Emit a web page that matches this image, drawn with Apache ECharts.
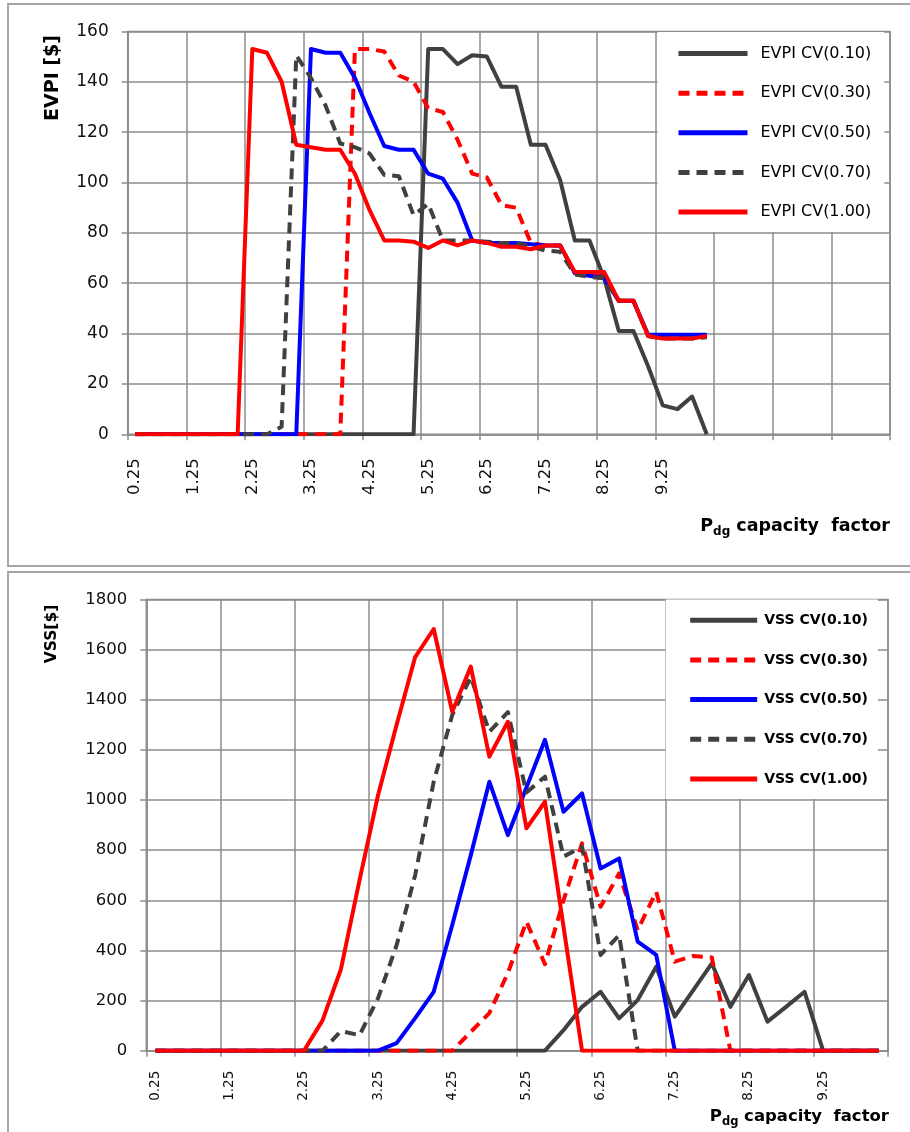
<!DOCTYPE html>
<html><head><meta charset="utf-8">
<script src="https://cdn.jsdelivr.net/npm/echarts@6/dist/echarts.min.js"></script>
<style>html,body{margin:0;padding:0;background:#fff}#c{width:910px;height:1132px}</style>
</head><body><div id="c"></div>
<script>
// ---------- DATA ----------
const xCatsTop = ['0.25','0.5','0.75','1','1.25','1.5','1.75','2','2.25','2.5','2.75','3','3.25','3.5','3.75','4',
  '4.25','4.5','4.75','5','5.25','5.5','5.75','6','6.25','6.5','6.75','7','7.25','7.5','7.75','8',
  '8.25','8.5','8.75','9','9.25','9.5','9.75','10','','','','','','','','','','','',''];
const xCatsBottom = ['0.25','0.5','0.75','1','1.25','1.5','1.75','2','2.25','2.5','2.75','3','3.25','3.5','3.75','4',
  '4.25','4.5','4.75','5','5.25','5.5','5.75','6','6.25','6.5','6.75','7','7.25','7.5','7.75','8',
  '8.25','8.5','8.75','9','9.25','9.5','9.75','10'];

const evpiNames = ['EVPI CV(0.10)','EVPI CV(0.30)','EVPI CV(0.50)','EVPI CV(0.70)','EVPI CV(1.00)'];
const vssNames = ['VSS CV(0.10)','VSS CV(0.30)','VSS CV(0.50)','VSS CV(0.70)','VSS CV(1.00)'];

const evpiCv010 = [
  0,0,0,0,0,0,0,0,0,0,
  0,0,0,0,0,0,0,0,0,0,
  153,153,147,150.5,150,138,138,115,115,101,
  77,77,62,41,41,27,11.5,10,15,0];
const evpiCv030 = [
  0,0,0,0,0,0,0,0,0,0,
  0,0,0,0,0,153,153,152,142.5,140,
  129.5,128,117,103.5,102,91,90,76,75,75,
  64,63,63,53,53,39,38.5,38.5,38.5,39];
const evpiCv050 = [
  0,0,0,0,0,0,0,0,0,0,
  0,0,153,151.5,151.5,141.5,127.5,114.5,113,113,
  103.5,101.5,92,77,76,76,76,75.5,75,75,
  64,63,62,53,53,39.5,39.5,39.5,39.5,39.5];
const evpiCv070 = [
  0,0,0,0,0,0,0,0,0,0,
  3,150.5,141.5,130.5,115.5,114,111.5,103,102.5,87,
  91.5,77,77,77,76.5,76,76,74.5,73,72.5,
  63.5,62.5,62,53,53,39,38,38,38,38.5];
const evpiCv100 = [
  0,0,0,0,0,0,0,0,153,151.5,
  140,115,114,113,113,103.5,89,77,77,76.5,
  74,77,75,77,76,74.5,74.5,73.5,75,75,
  64.5,64.5,64.5,53,53,39,38,38,38,39];

const vssCv010 = [
  0,0,0,0,0,0,0,0,0,0,
  0,0,0,0,0,0,0,0,0,0,
  0,0,82,175,235,129,202,335,136,242,
  348,175,302,116,175,235,0,0,0,0];
const vssCv030 = [
  0,0,0,0,0,0,0,0,0,0,
  0,0,0,0,0,0,0,75,150,310,
  515,345,600,827,574,707,481,634,355,378,
  372,0,0,0,0,0,0,0,0,0];
const vssCv050 = [
  0,0,0,0,0,0,0,0,0,0,
  0,0,0,30,130,235,501,780,1073,860,
  1050,1240,953,1026,727,767,435,382,0,0,
  0,0,0,0,0,0,0,0,0,0];
const vssCv070 = [
  0,0,0,0,0,0,0,0,0,0,
  78,62,210,421,700,1073,1339,1490,1272,1350,
  1030,1093,774,814,382,461,0,0,0,0,
  0,0,0,0,0,0,0,0,0,0];
const vssCv100 = [
  0,0,0,0,0,0,0,0,0,120,
  326,680,1020,1300,1570,1682,1352,1532,1173,1312,
  887,993,495,0,0,0,0,0,0,0,
  0,0,0,0,0,0,0,0,0,0];

// ---------- STYLE ----------
const gridColor = '#8c8c8c';
const dark = '#404040', red = '#ff0000', blue = '#0000ff';
const dash = [11, 7];
const seriesStyles = [
  {color: dark, type: 'solid'},
  {color: red, type: dash},
  {color: blue, type: 'solid'},
  {color: dark, type: dash},
  {color: red, type: 'solid'}
];
const tickFont = 'DejaVu Sans';

function xAxisCfg(gridIndex, data, fontSize, margin) {
  return {
    type: 'category', gridIndex, data, boundaryGap: true,
    axisLine: {show: true, lineStyle: {color: gridColor, width: 1.5}},
    axisTick: {show: true, interval: 3, length: 6, lineStyle: {color: gridColor, width: 1.5}},
    axisLabel: {interval: 3, rotate: 90, margin, fontFamily: tickFont, fontSize, color: '#111'},
    splitLine: {show: true, interval: 3, lineStyle: {color: gridColor, width: 1.5}}
  };
}
function yAxisCfg(gridIndex, max, interval, fontSize) {
  return {
    type: 'value', gridIndex, min: 0, max, interval,
    axisLine: {show: true, lineStyle: {color: gridColor, width: 1.5}},
    axisTick: {show: true, length: 6, lineStyle: {color: gridColor, width: 1.5}},
    axisLabel: {margin: 19, fontFamily: tickFont, fontSize, color: '#111', formatter: v => String(v)},
    splitLine: {show: true, lineStyle: {color: gridColor, width: 1.5}}
  };
}
function mkSeries(names, datas, axisIndex) {
  return names.map((n, k) => ({
    name: n, type: 'line', xAxisIndex: axisIndex, yAxisIndex: axisIndex,
    data: datas[k], symbol: 'none', showSymbol: false, clip: true,
    lineStyle: {color: seriesStyles[k].color, width: 4, type: seriesStyles[k].type, join: 'round'},
    itemStyle: {color: seriesStyles[k].color},
    emphasis: {disabled: true}
  }));
}

const chart = echarts.init(document.getElementById('c'), null, {renderer: 'canvas'});
chart.setOption({
  animation: false,
  backgroundColor: '#fff',
  grid: [
    {left: 127.7, top: 31.4, width: 762.3, height: 402.9, show: true, borderColor: gridColor, borderWidth: 1.5},
    {left: 146.3, top: 599.4, width: 741.7, height: 451.3, show: true, borderColor: gridColor, borderWidth: 1.5}
  ],
  xAxis: [xAxisCfg(0, xCatsTop, 16.5, 24), xAxisCfg(1, xCatsBottom, 13.5, 20)],
  yAxis: [yAxisCfg(0, 160, 20, 17), yAxisCfg(1, 1800, 200, 16.5)],
  legend: [
    {
      data: evpiNames, orient: 'vertical', left: 657.6, top: 32,
      itemWidth: 69, itemHeight: 14, itemGap: 19.6,
      padding: [11.6, 13, 10, 18.4], backgroundColor: '#fff',
      lineStyle: {width: 5},
      itemStyle: {opacity: 0, borderWidth: 0},
      textStyle: {fontFamily: tickFont, fontSize: 16, color: '#000', lineHeight: 20, padding: [0, 0, 0, 8]}
    },
    {
      data: vssNames, orient: 'vertical', left: 665.7, top: 599.4,
      itemWidth: 67, itemHeight: 14, itemGap: 19.7,
      padding: [10.8, 10, 10, 22], backgroundColor: '#fff',
      lineStyle: {width: 5},
      itemStyle: {opacity: 0, borderWidth: 0},
      textStyle: {fontFamily: tickFont, fontSize: 14, fontWeight: 'bold', color: '#000', lineHeight: 20, padding: [0, 0, 0, 2]}
    }
  ],
  title: [
    {
      text: '{p|P}{s|dg}{c| capacity  factor}', right: 20, top: 514, padding: 0,
      textStyle: {rich: {
        p: {fontFamily: tickFont, fontWeight: 'bold', fontSize: 17.5, lineHeight: 24, color: '#000'},
        s: {fontFamily: tickFont, fontWeight: 'bold', fontSize: 12, lineHeight: 16, verticalAlign: 'bottom', color: '#000'},
        c: {fontFamily: tickFont, fontWeight: 'bold', fontSize: 17.5, lineHeight: 24, color: '#000'}
      }}
    },
    {
      text: '{p|P}{s|dg}{c| capacity  factor}', right: 21, top: 1106, padding: 0,
      textStyle: {rich: {
        p: {fontFamily: tickFont, fontWeight: 'bold', fontSize: 16.5, lineHeight: 22, color: '#000'},
        s: {fontFamily: tickFont, fontWeight: 'bold', fontSize: 11.5, lineHeight: 15, verticalAlign: 'bottom', color: '#000'},
        c: {fontFamily: tickFont, fontWeight: 'bold', fontSize: 16.5, lineHeight: 22, color: '#000'}
      }}
    }
  ],
  graphic: [
    {type: 'rect', silent: true, z: -1, shape: {x: 8, y: 4, width: 920, height: 562}, style: {fill: 'none', stroke: '#a6a6a6', lineWidth: 2}},
    {type: 'rect', silent: true, z: -1, shape: {x: 8, y: 572, width: 920, height: 600}, style: {fill: 'none', stroke: '#a6a6a6', lineWidth: 2}},
    {type: 'text', x: 53, y: 78, rotation: Math.PI / 2, silent: true,
      style: {text: 'EVPI [$]', fontFamily: tickFont, fontWeight: 'bold', fontSize: 19, fill: '#000', align: 'center', verticalAlign: 'middle'}},
    {type: 'text', x: 52, y: 634, rotation: Math.PI / 2, silent: true,
      style: {text: 'VSS[$]', fontFamily: tickFont, fontWeight: 'bold', fontSize: 15.5, fill: '#000', align: 'center', verticalAlign: 'middle'}}
  ],
  series: [
    ...mkSeries(evpiNames, [evpiCv010, evpiCv030, evpiCv050, evpiCv070, evpiCv100], 0),
    ...mkSeries(vssNames, [vssCv010, vssCv030, vssCv050, vssCv070, vssCv100], 1)
  ]
});
</script></body></html>
